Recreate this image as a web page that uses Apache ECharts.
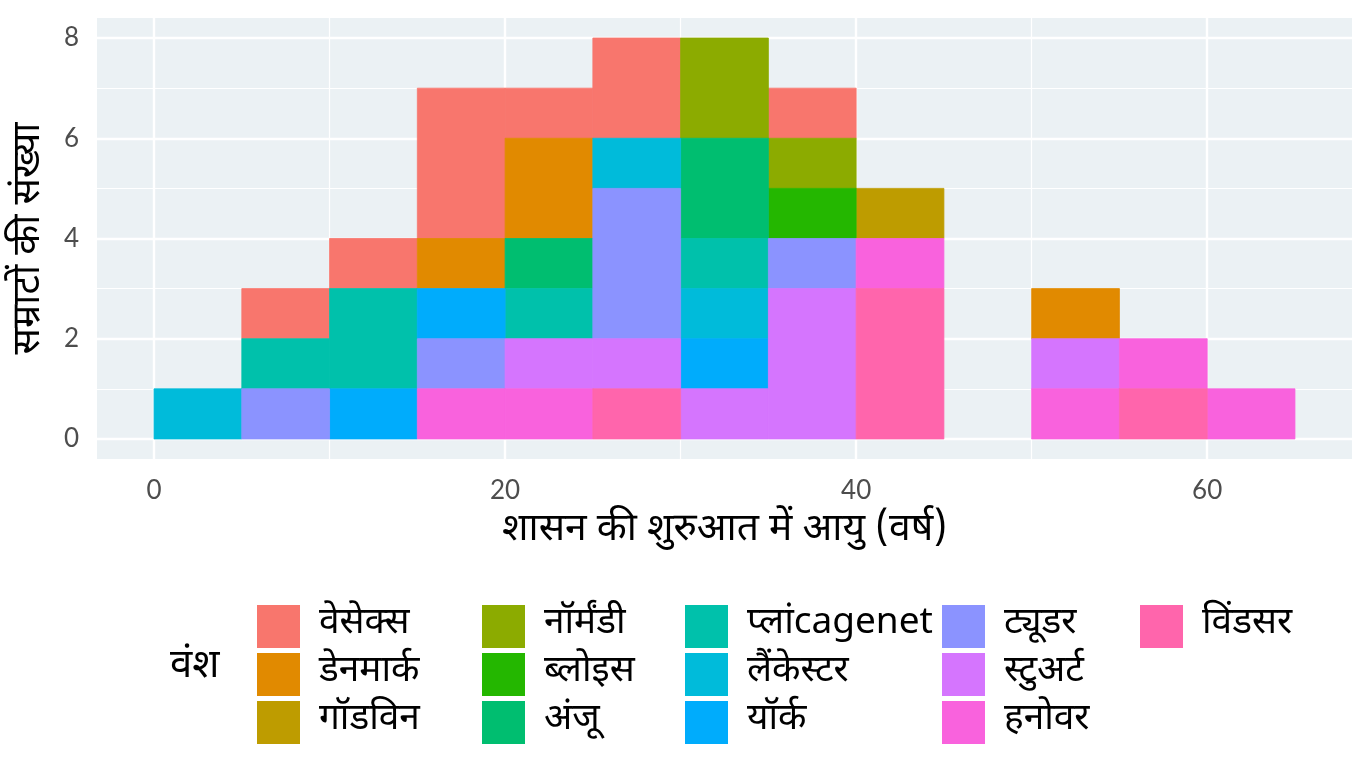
<!DOCTYPE html>
<html>
<head>
<meta charset="utf-8">
<script src="https://cdn.jsdelivr.net/npm/echarts@6/dist/echarts.min.js"></script>
<style>
html,body{margin:0;padding:0;background:#fff;}
#chart{width:1372px;height:784px;}
</style>
</head>
<body>
<div id="chart"></div>
<script>
// Bin edges (age at start of reign, 5-year bins)
const binStarts = [0,5,10,15,20,25,30,35,40,45,50,55,60];
const binWidth = 5;

// Dynasty names (legend order) and colours
const dynasties = ['वेसेक्स','डेनमार्क','गॉडविन','नॉर्मंडी','ब्लोइस','अंजू','प्लांcagenet','लैंकेस्टर','यॉर्क','ट्यूडर','स्टुअर्ट','हनोवर','विंडसर'];
const dynastyColors = ['#F8766D','#E18A00','#BE9C00','#8CAB00','#24B700','#00BE70','#00C1AB','#00BBDA','#00ACFC','#8B93FF','#D575FE','#F962DD','#FF65AC'];

// Counts per bin for each dynasty
const wessex      = [0,1,1,3,1,2,0,1,0,0,0,0,0];
const denmark     = [0,0,0,1,2,0,0,0,0,0,1,0,0];
const godwin      = [0,0,0,0,0,0,0,0,1,0,0,0,0];
const normandy    = [0,0,0,0,0,0,2,1,0,0,0,0,0];
const blois       = [0,0,0,0,0,0,0,1,0,0,0,0,0];
const anjou       = [0,0,0,0,1,0,2,0,0,0,0,0,0];
const plantagenet = [0,1,2,0,1,0,1,0,0,0,0,0,0];
const lancaster   = [1,0,0,0,0,1,1,0,0,0,0,0,0];
const york        = [0,0,1,1,0,0,1,0,0,0,0,0,0];
const tudor       = [0,1,0,1,0,3,0,1,0,0,0,0,0];
const stuart      = [0,0,0,0,1,1,1,3,0,0,1,0,0];
const hanover     = [0,0,0,1,1,0,0,0,1,0,1,1,1];
const windsor     = [0,0,0,0,0,1,0,0,3,0,0,1,0];
const counts = [wessex,denmark,godwin,normandy,blois,anjou,plantagenet,lancaster,york,tudor,stuart,hanover,windsor];

// Axis ticks
const xTicks = [0,20,40,60];
const xMinorGrid = [10,30,50];
const yTicks = [0,2,4,6,8];
const yMinorGrid = [1,3,5,7];

const xTitle = 'शासन की शुरुआत में आयु (वर्ष)';
const yTitle = 'सम्राटों की संख्या';
const legendTitle = 'वंश';

// stacking: last level at bottom
const base = binStarts.map(() => 0);
const stacked = new Array(dynasties.length);
for (let d = dynasties.length - 1; d >= 0; d--) {
  const items = [];
  counts[d].forEach((c, i) => {
    if (c > 0) {
      items.push([binStarts[i], binStarts[i] + binWidth, base[i], base[i] + c]);
      base[i] += c;
    }
  });
  stacked[d] = items;
}

const devFont = '"Noto Sans Devanagari","Lohit Devanagari","Noto Sans","DejaVu Sans",sans-serif';
const numFont = 'Lato, "Noto Sans", sans-serif';

const xMin = -3.25, xMax = 68.25, yMin = -0.4, yMax = 8.4;

const series = dynasties.map((name, d) => ({
  type: 'custom',
  name: name,
  z: 5,
  itemStyle: { color: dynastyColors[d] },
  encode: { x: [0, 1], y: [2, 3] },
  data: stacked[d],
  renderItem: function (params, api) {
    const p0 = api.coord([api.value(0), api.value(3)]);
    const p1 = api.coord([api.value(1), api.value(2)]);
    return {
      type: 'rect',
      shape: { x: p0[0], y: p0[1], width: p1[0] - p0[0], height: p1[1] - p0[1] },
      style: { fill: dynastyColors[d], stroke: dynastyColors[d], lineWidth: 0.8 }
    };
  }
}));

const gridLines = [];
xTicks.forEach(v => gridLines.push({ xAxis: v, lineStyle: { width: 2.4 } }));
xMinorGrid.forEach(v => gridLines.push({ xAxis: v, lineStyle: { width: 1.2 } }));
yTicks.forEach(v => gridLines.push({ yAxis: v, lineStyle: { width: 2.4 } }));
yMinorGrid.forEach(v => gridLines.push({ yAxis: v, lineStyle: { width: 1.2 } }));

series.push({
  type: 'scatter',
  name: '__grid',
  data: [],
  z: 1,
  silent: true,
  markLine: {
    silent: true,
    z: 1,
    symbol: 'none',
    label: { show: false },
    animation: false,
    lineStyle: { color: '#ffffff', type: 'solid' },
    data: gridLines
  }
});

const legendCols = [
  { left: 257, names: dynasties.slice(0, 3) },
  { left: 482, names: dynasties.slice(3, 6) },
  { left: 685, names: dynasties.slice(6, 9) },
  { left: 942, names: dynasties.slice(9, 12) },
  { left: 1140, names: dynasties.slice(12, 13) }
];

const legends = legendCols.map(col => ({
  orient: 'vertical',
  left: col.left,
  top: 605,
  padding: 0,
  itemWidth: 43,
  itemHeight: 43,
  itemGap: 5,
  icon: 'rect',
  selectedMode: false,
  data: col.names,
  textStyle: { fontFamily: devFont, fontSize: 37, color: '#000', padding: [0, 0, 0, 14] }
}));

const chart = echarts.init(document.getElementById('chart'));
chart.setOption({
  animation: false,
  backgroundColor: '#ffffff',
  title: {
    text: legendTitle,
    left: 170,
    top: 650,
    padding: 0,
    textStyle: { fontFamily: devFont, fontSize: 40, fontWeight: 'normal', color: '#000' }
  },
  legend: legends,
  grid: { left: 97, right: 20, top: 18, bottom: 325, show: true, backgroundColor: '#EBF1F4', borderWidth: 0 },
  xAxis: {
    type: 'value',
    min: xMin, max: xMax,
    splitLine: { show: false },
    axisLine: { show: false },
    axisTick: { show: true, customValues: xTicks, length: 8, lineStyle: { color: '#333', width: 2 } },
    axisLabel: { customValues: xTicks, fontFamily: numFont, fontSize: 26, color: '#4D4D4D', margin: 19 },
    name: xTitle,
    nameLocation: 'middle',
    nameGap: 54,
    nameTextStyle: { fontFamily: devFont, fontSize: 39, color: '#000' }
  },
  yAxis: {
    type: 'value',
    min: yMin, max: yMax,
    splitLine: { show: false },
    axisLine: { show: false },
    axisTick: { show: true, customValues: yTicks, length: 8, lineStyle: { color: '#333', width: 2 } },
    axisLabel: { customValues: yTicks, fontFamily: numFont, fontSize: 26, color: '#4D4D4D', margin: 18 },
    name: yTitle,
    nameLocation: 'middle',
    nameGap: 46,
    nameTextStyle: { fontFamily: devFont, fontSize: 39, color: '#000' }
  },
  series: series
});
</script>
</body>
</html>
